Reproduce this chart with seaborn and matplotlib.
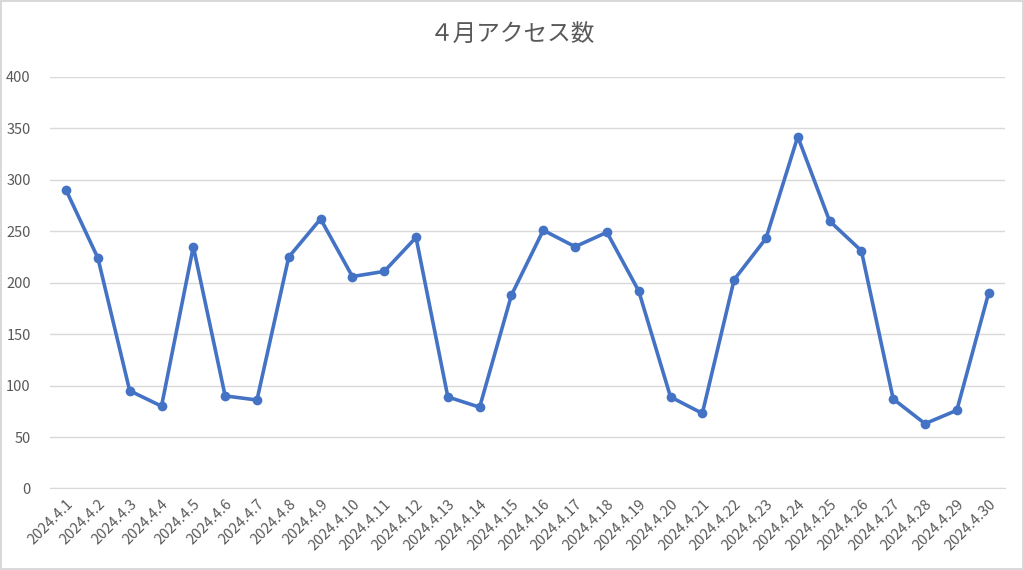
import pandas as pd
import matplotlib.pyplot as plt
import seaborn as sns

# April daily access counts
days = [f"2024.4.{d}" for d in range(1, 31)]
access = [290, 224, 95, 80, 235, 90, 86, 225, 262, 206,
          211, 244, 89, 79, 188, 251, 235, 249, 192, 89,
          73, 203, 243, 342, 260, 231, 87, 63, 76, 190]
yticks = [0, 50, 100, 150, 200, 250, 300, 350, 400]

df = pd.DataFrame({"day": days, "access": access})
df["pos"] = range(len(days))

sns.set_style("white")
plt.rcParams['font.family'] = ['Noto Sans CJK JP', 'DejaVu Sans']

fig = plt.figure(figsize=(10.24, 5.7), dpi=100)
fig.patch.set_edgecolor('#d9d9d9')
fig.patch.set_linewidth(1.5)
ax = fig.add_axes([0.049, 0.143, 0.932, 0.722])

sns.lineplot(data=df, x="pos", y="access", ax=ax, color='#4472C4',
             linewidth=2.6, marker='o', markersize=7, markeredgewidth=0)

ax.set_xlim(-0.5, len(days) - 0.5)
ax.set_ylim(0, 400)
ax.set_yticks(yticks)
ax.set_xticks(df["pos"])
ax.set_xticklabels(days, rotation=45, ha='right', rotation_mode='anchor')
ax.tick_params(axis='both', length=0, labelsize=10.5, labelcolor='#595959')
ax.tick_params(axis='x', pad=6)
ax.tick_params(axis='y', pad=14)
ax.grid(axis='y', color='#d9d9d9', linewidth=1)
for s in ['top', 'right', 'left']:
    ax.spines[s].set_visible(False)
ax.spines['bottom'].set_color('#d9d9d9')
ax.set_xlabel('')
ax.set_ylabel('')

fig.text(0.5, 0.94, '４月アクセス数', ha='center', va='center',
         fontsize=17, color='#595959')

fig.savefig('out.png', dpi=100, edgecolor=fig.get_edgecolor())
